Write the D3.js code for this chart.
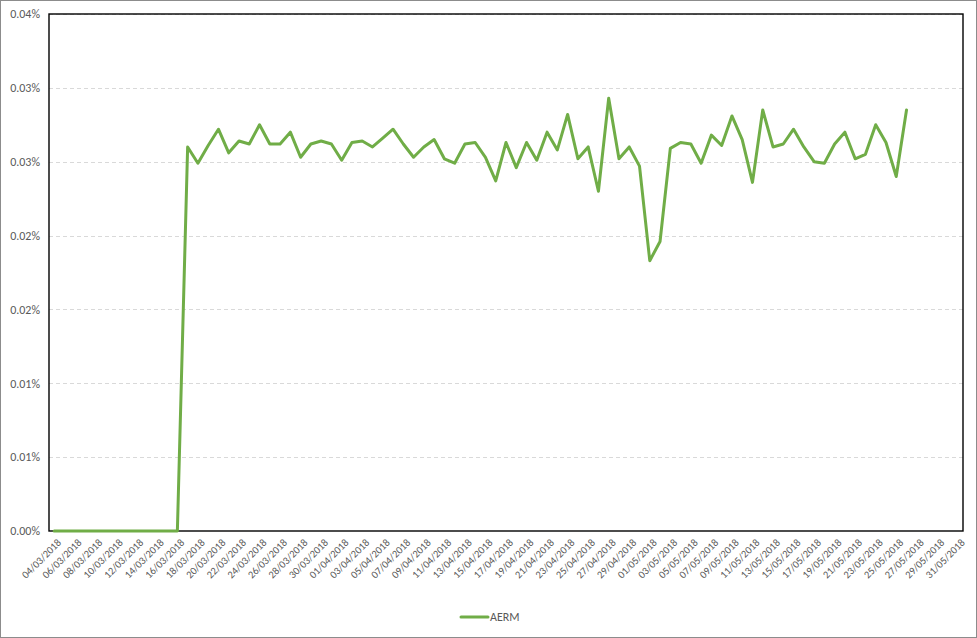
<!DOCTYPE html>
<html>
<head>
<meta charset="utf-8">
<script src="https://cdn.jsdelivr.net/npm/d3@7"></script>
<style>
  html, body { margin: 0; padding: 0; background: #fff; }
  svg { display: block; font-family: Calibri, Carlito, "Liberation Sans", sans-serif; }
</style>
</head>
<body>
<svg id="chart" width="977" height="638"></svg>
<script>
// Daily categories of the date axis (first and last day shown).
var startDay = new Date(2018, 2, 4);
var endDay = new Date(2018, 4, 31);

// AERM, in percent, one value per day from 04/03/2018.
var aerm = [
  0, 0, 0, 0, 0, 0, 0, 0, 0, 0, 0, 0, 0,
  0.0260, 0.0249, 0.0261, 0.0272, 0.0256, 0.0264, 0.0262, 0.0275, 0.0262, 0.0262,
  0.0270, 0.0253, 0.0262, 0.0264, 0.0262, 0.0251, 0.0263, 0.0264, 0.0260, 0.0266,
  0.0272, 0.0262, 0.0253, 0.0260, 0.0265, 0.0252, 0.0249, 0.0262, 0.0263, 0.0253,
  0.0237, 0.0263, 0.0246, 0.0263, 0.0251, 0.0270, 0.0258, 0.0282, 0.0252, 0.0260,
  0.0230, 0.0293, 0.0252, 0.0260, 0.0247, 0.0183, 0.0196, 0.0259, 0.0263, 0.0262,
  0.0249, 0.0268, 0.0261, 0.0281, 0.0265, 0.0236, 0.0285, 0.0260, 0.0262, 0.0272,
  0.0260, 0.0250, 0.0249, 0.0262, 0.0270, 0.0252, 0.0255, 0.0275, 0.0263, 0.0240,
  0.0285
];

// Y ticks (percent) and their labels as the spreadsheet rounds them.
var yTicks = [0, 0.005, 0.01, 0.015, 0.02, 0.025, 0.03, 0.035];
var yTickLabels = ["0.00%", "0.01%", "0.01%", "0.02%", "0.02%", "0.03%", "0.03%", "0.04%"];

var seriesName = "AERM";

var days = d3.timeDay.range(startDay, d3.timeDay.offset(endDay, 1));
var fmtDay = d3.timeFormat("%d/%m/%Y");
var categories = days.map(fmtDay);

var plot = { left: 49, top: 14, right: 963, bottom: 531 };
var fontFam = "Calibri, Carlito, 'Liberation Sans', sans-serif";

var svg = d3.select("#chart");

// chart area border
svg.append("rect")
  .attr("x", 0.5).attr("y", 0.5)
  .attr("width", 976).attr("height", 637)
  .attr("fill", "#fff")
  .attr("stroke", "#8c8c8c");

var x = d3.scalePoint()
  .domain(categories)
  .range([plot.left, plot.right])
  .padding(0.5);

var y = d3.scaleLinear()
  .domain([0, 0.035])
  .range([plot.bottom, plot.top]);

// gridlines
svg.append("g")
  .selectAll("line")
  .data(yTicks.slice(1))
  .enter()
  .append("line")
  .attr("x1", plot.left)
  .attr("x2", plot.right)
  .attr("y1", function(d) { return Math.round(y(d)) + 0.5; })
  .attr("y2", function(d) { return Math.round(y(d)) + 0.5; })
  .attr("stroke", "#d9d9d9")
  .attr("stroke-dasharray", "4,3");

// plot area border
svg.append("rect")
  .attr("x", plot.left)
  .attr("y", plot.top)
  .attr("width", plot.right - plot.left)
  .attr("height", plot.bottom - plot.top)
  .attr("fill", "none")
  .attr("stroke", "#000")
  .attr("stroke-width", 1.4);

// y axis labels
var yAxis = d3.axisLeft(y)
  .tickValues(yTicks)
  .tickSize(0)
  .tickPadding(9)
  .tickFormat(function(d, i) { return yTickLabels[i]; });

svg.append("g")
  .attr("transform", "translate(" + plot.left + ",0)")
  .call(yAxis)
  .call(function(g) { g.select(".domain").remove(); })
  .selectAll("text")
  .attr("fill", "#595959")
  .attr("font-size", "12px")
  .attr("font-family", fontFam);

// x axis labels, every second day, rotated
var xAxis = d3.axisBottom(x)
  .tickValues(categories.filter(function(d, i) { return i % 2 === 0; }))
  .tickSize(0)
  .tickPadding(0);

var gx = svg.append("g")
  .attr("transform", "translate(0," + plot.bottom + ")")
  .call(xAxis);
gx.select(".domain").remove();
gx.selectAll("text")
  .attr("fill", "#595959")
  .attr("font-size", "10.5px")
  .attr("font-family", fontFam)
  .attr("text-anchor", "end")
  .attr("dy", "0.7em")
  .attr("y", 0)
  .attr("transform", "translate(2,7) rotate(-45)");

// the series line
var line = d3.line()
  .x(function(d, i) { return x(categories[i]); })
  .y(function(d) { return y(d); });

svg.append("path")
  .datum(aerm)
  .attr("d", line)
  .attr("fill", "none")
  .attr("stroke", "#70ad47")
  .attr("stroke-width", 3)
  .attr("stroke-linejoin", "round")
  .attr("stroke-linecap", "round");

// legend
var legend = svg.append("g").attr("transform", "translate(461,617)");
legend.append("line")
  .attr("x1", 0).attr("x2", 27)
  .attr("y1", 0).attr("y2", 0)
  .attr("stroke", "#70ad47")
  .attr("stroke-width", 3)
  .attr("stroke-linecap", "round");
legend.append("text")
  .attr("x", 29)
  .attr("y", 0)
  .attr("dy", "0.35em")
  .attr("fill", "#595959")
  .attr("font-size", "12px")
  .attr("font-family", fontFam)
  .text(seriesName);
</script>
</body>
</html>
